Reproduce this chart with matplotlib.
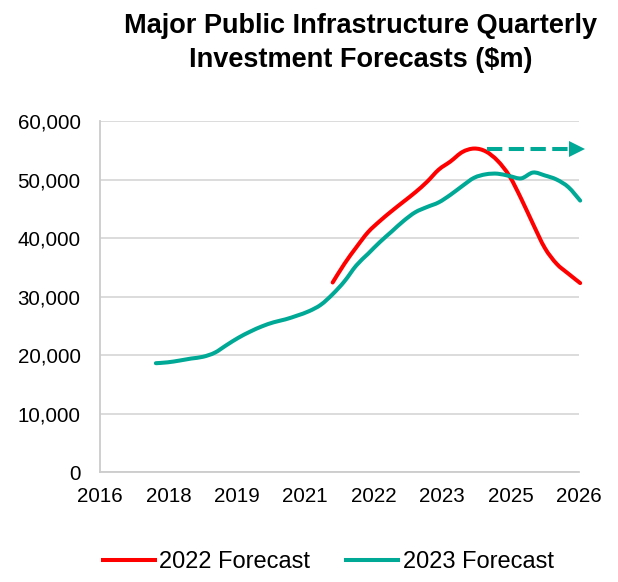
import numpy as np
import matplotlib
matplotlib.use('Agg')
import matplotlib.pyplot as plt
from matplotlib.path import Path
from matplotlib.patches import PathPatch

plt.rcParams['font.family'] = ['Liberation Sans', 'DejaVu Sans']

# quarterly series, first quarter is Q4 2017 for the 2023 forecast
start_2023 = 2017.875
fc_2023 = [18600, 18750, 19050, 19400, 19700, 20400, 21700, 22950, 24000,
           24900, 25600, 26100, 26750, 27500, 28600, 30400, 32600, 35300,
           37300, 39300, 41100, 42900, 44400, 45300, 46100, 47400, 48900,
           50300, 50900, 51000, 50600, 50200, 51200, 50700, 50000, 48700,
           46400]

# 2022 forecast starts later (Q3 2021)
start_2022 = 2021.625
fc_2022 = [32400, 35600, 38400, 41000, 42900, 44600, 46200, 47800, 49600,
           51700, 53100, 54700, 55300, 54800, 53200, 50600, 46700, 42400,
           38300, 35600, 33900, 32300]

x_labels = ['2016', '2018', '2019', '2021', '2022', '2023', '2025', '2026']
y_ticks = [0, 10000, 20000, 30000, 40000, 50000, 60000]

red = '#FF0000'
teal = '#00A896'
grid_col = '#D9D9D9'


def smooth_path(x, y, t=1/6):
    # bezier segments through every point (like a spreadsheet "smoothed line")
    pts = np.column_stack([x, y]).astype(float)
    verts = [pts[0]]
    codes = [Path.MOVETO]
    n = len(pts)
    for i in range(n - 1):
        p0 = pts[max(i - 1, 0)]
        p1 = pts[i]
        p2 = pts[i + 1]
        p3 = pts[min(i + 2, n - 1)]
        c1 = p1 + (p2 - p0) * t
        c2 = p2 - (p3 - p1) * t
        verts += [c1, c2, p2]
        codes += [Path.CURVE4] * 3
    return Path(verts, codes)


x23 = start_2023 + 0.25 * np.arange(len(fc_2023))
x22 = start_2022 + 0.25 * np.arange(len(fc_2022))

fig = plt.figure(figsize=(6.18, 5.82), dpi=100)
ax = fig.add_axes([0.1618, 0.189, 0.7751, 0.603])

for xs, ys, col, lab in [(x22, fc_2022, red, '2022 Forecast'),
                         (x23, fc_2023, teal, '2023 Forecast')]:
    patch = PathPatch(smooth_path(xs, ys), facecolor='none', edgecolor=col,
                      lw=2.9, capstyle='round', joinstyle='round', zorder=3,
                      clip_on=False)
    ax.add_patch(patch)
    # invisible line just for the legend entry
    ax.plot([], [], color=col, lw=2.9, label=lab)

# dashed arrow pointing right
ax.plot([2024.90, 2026.64], [55300, 55300], color=teal, lw=2.9,
        dashes=(3.8, 1.6), clip_on=False, zorder=4)
ax.plot([2026.80], [55300], marker='>', markersize=12, color=teal,
        clip_on=False, zorder=4, markeredgewidth=0)

xmin, xmax = 2016.69, 2026.85
ax.set_xlim(xmin, xmax)
ax.set_ylim(0, 60000)
ax.set_xticks(np.linspace(xmin, xmax, len(x_labels)))
ax.set_xticklabels(x_labels)
ax.set_yticks(y_ticks)
ax.set_yticklabels([f'{v:,}' for v in y_ticks])
ax.tick_params(axis='both', length=0, labelsize=14.8, colors='black')
ax.tick_params(axis='y', pad=14)
ax.tick_params(axis='x', pad=11)

ax.yaxis.grid(True, color=grid_col, lw=1.3)
ax.set_axisbelow(True)
for s in ['top', 'right']:
    ax.spines[s].set_visible(False)
for s in ['left', 'bottom']:
    ax.spines[s].set_color('#CCCCCC')
    ax.spines[s].set_linewidth(1.3)

fig.text(0.583, 0.977, 'Major Public Infrastructure Quarterly\nInvestment Forecasts ($m)',
         ha='center', va='top', fontsize=19.5, fontweight='bold', linespacing=1.38)

fig.legend(loc='center', bbox_to_anchor=(0.531, 0.034), ncol=2, frameon=False,
           fontsize=17, handlelength=2.2, handletextpad=0.2, columnspacing=1.5)

fig.savefig('out.png', dpi=100)
